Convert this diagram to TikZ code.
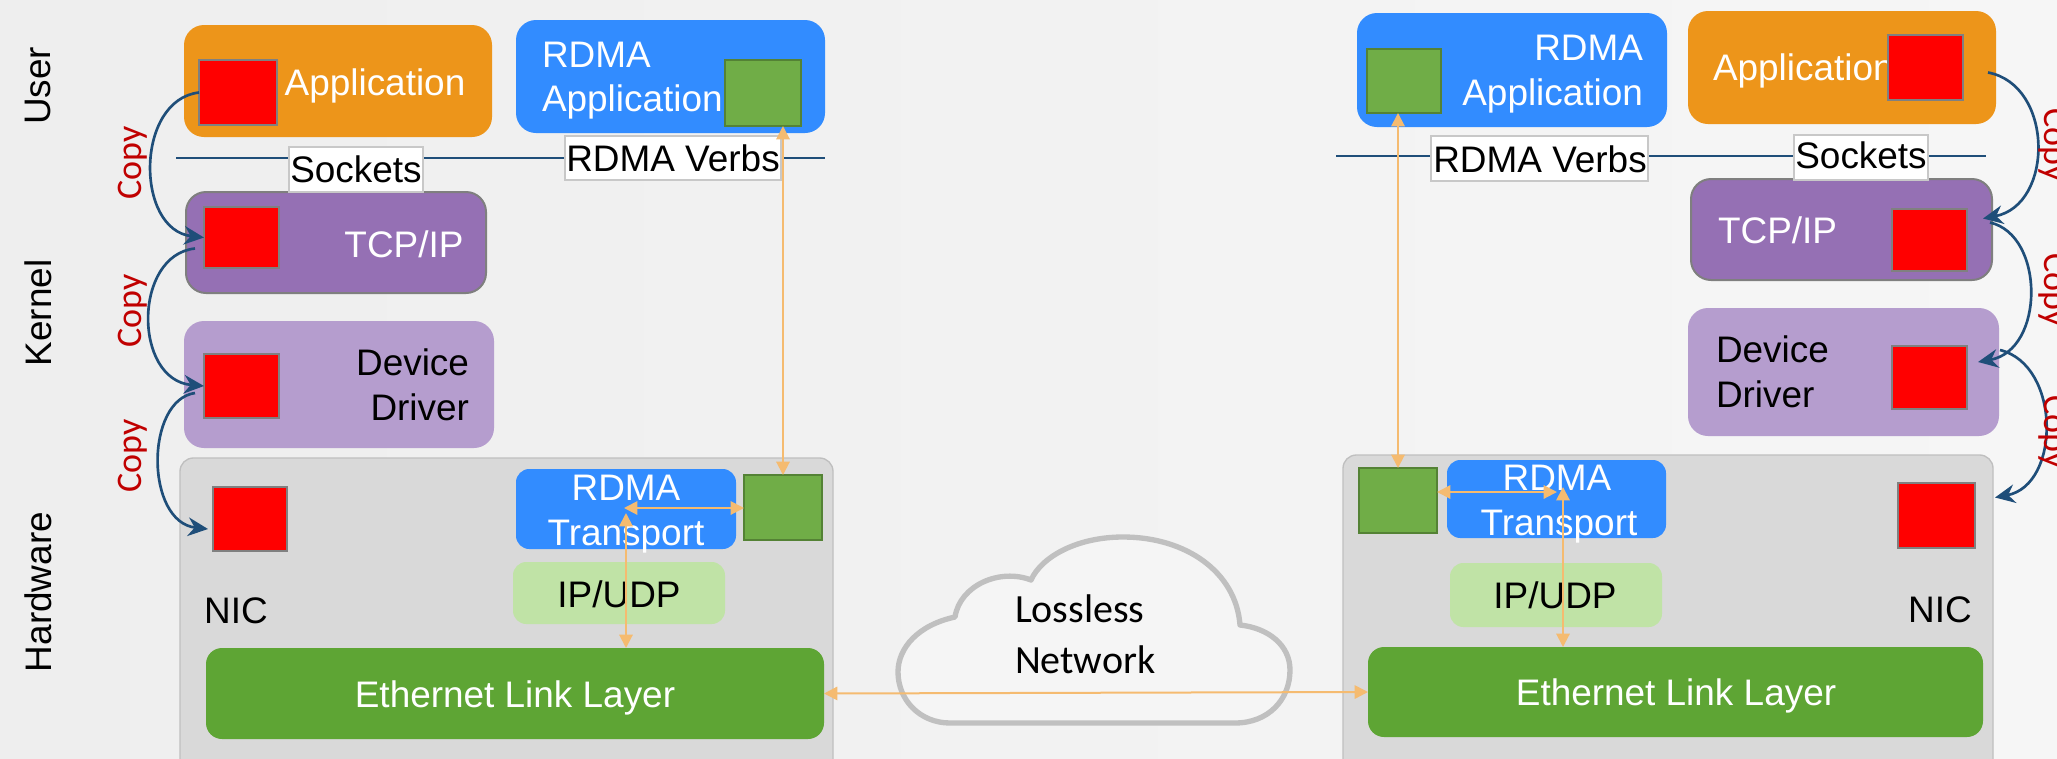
\documentclass[tikz,border=0pt]{standalone}
\usepackage{fontspec}
\setmainfont{Liberation Sans}
\newfontfamily\calibrifont{Carlito}
\usetikzlibrary{fit,arrows.meta}

\definecolor{bgl}{RGB}{238,238,238}
\definecolor{bgr}{RGB}{246,246,246}
\definecolor{appor}{RGB}{237,149,26}
\definecolor{rdmab}{RGB}{50,140,255}
\definecolor{tcpp}{RGB}{149,112,180}
\definecolor{tcpedge}{RGB}{127,127,127}
\definecolor{drvp}{RGB}{181,157,206}
\definecolor{nicg}{RGB}{217,217,217}
\definecolor{nicb}{RGB}{191,191,191}
\definecolor{ethg}{RGB}{94,165,52}
\definecolor{ipg}{RGB}{192,227,166}
\definecolor{bufg}{RGB}{112,173,71}
\definecolor{bufgb}{RGB}{84,130,53}
\definecolor{bufr}{RGB}{255,0,0}
\definecolor{bufrb}{RGB}{128,128,128}
\definecolor{apiedge}{RGB}{200,200,200}
\definecolor{arrowor}{RGB}{245,187,112}
\definecolor{navy}{RGB}{31,78,121}
\definecolor{copyred}{RGB}{192,0,0}
\definecolor{cloudg}{RGB}{192,192,192}
\definecolor{cloudfill}{RGB}{245,245,245}

\begin{document}
\begin{tikzpicture}[x=0.75pt,y=-0.75pt,
  every node/.style={inner sep=0pt, outer sep=0pt},
  appbox/.style={fill=appor, rounded corners=15pt},
  rdmabox/.style={fill=rdmab, rounded corners=15pt},
  rdmasmall/.style={fill=rdmab, rounded corners=10pt},
  tcpbox/.style={fill=tcpp, draw=tcpedge, line width=1.5pt, rounded corners=15pt},
  drvbox/.style={fill=drvp, rounded corners=15pt},
  nicbox/.style={fill=nicg, draw=nicb, line width=1pt, rounded corners=10pt},
  ipbox/.style={fill=ipg, rounded corners=10pt},
  ethbox/.style={fill=ethg, rounded corners=12pt},
  redbuf/.style={fill=bufr, draw=bufrb, line width=2pt},
  greenbuf/.style={fill=bufg, draw=bufgb, line width=2pt},
  apibox/.style={fill=white, draw=apiedge, line width=0.8pt},
  lbl/.style={font=\fontsize{27.7}{33}\selectfont, anchor=base},
  wlbl/.style={lbl, text=white},
  side/.style={font=\fontsize{27.7}{33}\selectfont, rotate=90},
  copylbl/.style={font=\calibrifont\fontsize{27}{32}\selectfont, text=copyred},
  oarrow/.style={draw=arrowor, line width=1.5pt, arrows={Triangle[length=10pt,width=10pt]-Triangle[length=10pt,width=10pt]}},
  copyarc/.style={draw=navy, line width=2pt, arrows={-Stealth[length=15pt,width=14pt,inset=5pt]}},
  sepline/.style={draw=navy, line width=2pt},
  cloudline/.style={draw=cloudg, line width=4pt, fill=cloudfill, line join=round},
]
\useasboundingbox (0,0) rectangle (2057,758);
\clip (0,0) rectangle (2057,758);
\shade[left color=bgl, right color=bgr] (0,0) rectangle (2057,758);

% ---------------- layer names ----------------
\node[side] (lUser) at (38,86) {User};
\node[side] (lKernel) at (38,313) {Kernel};
\node[side] (lHw) at (38,592) {Hardware};

% ---------------- left host: boxes ----------------
\node[appbox, fit={(184,25) (492,137)}] (appL) {};
\node[rdmabox, fit={(516,20) (825,133)}] (rappL) {};
\node[tcpbox, fit={(186,192) (486,293)}] (tcpL) {};
\node[drvbox, fit={(184,321) (494,448)}] (drvL) {};
\node[nicbox, fit={(180,458) (833,800)}] (nicL) {};
\node[rdmasmall, fit={(516,469) (736,549)}] (rtL) {};
\node[ipbox, fit={(513,562) (725,624)}] (ipL) {};
\node[ethbox, fit={(206,648) (824,739)}] (ethL) {};

% ---------------- right host: boxes ----------------
\node[rdmabox, fit={(1357,13) (1667,127)}] (rappR) {};
\node[appbox, fit={(1688,11) (1996,124)}] (appR) {};
\node[tcpbox, fit={(1691,179) (1992,280)}] (tcpR) {};
\node[drvbox, fit={(1688,308) (1999,436)}] (drvR) {};
\node[nicbox, fit={(1343,455) (1993,800)}] (nicR) {};
\node[rdmasmall, fit={(1447,460) (1666,538)}] (rtR) {};
\node[ipbox, fit={(1450,563) (1662,627)}] (ipR) {};
\node[ethbox, fit={(1368,647) (1983,737)}] (ethR) {};

% ---------------- box texts ----------------
\node[wlbl] (tAppL) at (375,95) {Application};
\node[wlbl, anchor=base west] (tRappL1) at (542,67) {RDMA};
\node[wlbl, anchor=base west] (tRappL2) at (542,111) {Application};
\node[wlbl] (tTcpL) at (404,257) {TCP/IP};
\node[lbl, anchor=base east] (tDrvL1) at (469,375) {Device};
\node[lbl, anchor=base east] (tDrvL2) at (469,420) {Driver};
\node[lbl] (tNicL) at (236,623) {NIC};
\node[wlbl] (tRtL1) at (626,500) {RDMA};
\node[wlbl] (tRtL2) at (626,545) {Transport};
\node[lbl] (tIpL) at (619,607) {IP/UDP};
\node[wlbl] (tEthL) at (515,707) {Ethernet Link Layer};

\node[wlbl, anchor=base east] (tRappR1) at (1643,60) {RDMA};
\node[wlbl, anchor=base east] (tRappR2) at (1643,105) {Application};
\node[wlbl, anchor=base west] (tAppR) at (1713,80) {Application};
\node[wlbl, anchor=base west] (tTcpR) at (1718,243) {TCP/IP};
\node[lbl, anchor=base west] (tDrvR1) at (1716,362) {Device};
\node[lbl, anchor=base west] (tDrvR2) at (1716,407) {Driver};
\node[wlbl] (tRtR1) at (1557,490) {RDMA};
\node[wlbl] (tRtR2) at (1559,535) {Transport};
\node[lbl] (tIpR) at (1555,608) {IP/UDP};
\node[lbl] (tNicR) at (1940,622) {NIC};
\node[wlbl] (tEthR) at (1676,705) {Ethernet Link Layer};

% ---------------- buffers ----------------
\node[redbuf, fit={(199,60) (277,125)}] (bufAppL) {};
\node[redbuf, fit={(204,207) (279,268)}] (bufTcpL) {};
\node[redbuf, fit={(204,354) (279,418)}] (bufDrvL) {};
\node[redbuf, fit={(213,487) (287,551)}] (bufNicL) {};
\node[greenbuf, fit={(725,60) (801,126)}] (gAppL) {};
\node[greenbuf, fit={(744,475) (822,540)}] (gNicL) {};

\node[redbuf, fit={(1888,35) (1963,100)}] (bufAppR) {};
\node[redbuf, fit={(1892,209) (1967,271)}] (bufTcpR) {};
\node[redbuf, fit={(1892,346) (1967,409)}] (bufDrvR) {};
\node[redbuf, fit={(1898,483) (1975,548)}] (bufNicR) {};
\node[greenbuf, fit={(1367,49) (1441,113)}] (gAppR) {};
\node[greenbuf, fit={(1359,468) (1437,533)}] (gNicR) {};

% ---------------- user/kernel boundary and APIs ----------------
\coordinate (sepL0) at (176,158);
\coordinate (sepL1) at (825,158);
\coordinate (sepR0) at (1336,156);
\coordinate (sepR1) at (1986,156);
\draw[sepline] (sepL0) -- (sepL1);
\draw[sepline] (sepR0) -- (sepR1);
\node[apibox, fit={(289,147) (423,192)}] (sockL) {};
\node[apibox, fit={(565,136) (781,180)}] (verbL) {};
\node[apibox, fit={(1431,136) (1648,181)}] (verbR) {};
\node[apibox, fit={(1794,135) (1928,180)}] (sockR) {};
\node[lbl] (tSockL) at (356,182) {Sockets};
\node[lbl] (tVerbL) at (673,171) {RDMA Verbs};
\node[lbl] (tVerbR) at (1540,172) {RDMA Verbs};
\node[lbl] (tSockR) at (1861,168) {Sockets};

% ---------------- network cloud ----------------
\draw[cloudline] (950,723) -- (1235,723)
  .. controls (1268,723) and (1290,700) .. (1290,670)
  .. controls (1290,645) and (1268,628) .. (1240,625)
  .. controls (1236,572) and (1186,537) .. (1123,537)
  .. controls (1078,537) and (1042,556) .. (1031,580)
  .. controls (1000,568) and (960,585) .. (955,617)
  .. controls (918,625) and (898,648) .. (898,672)
  .. controls (898,700) and (920,723) .. (950,723) -- cycle;
\node[font=\calibrifont\fontsize{30}{36}\selectfont, anchor=base west] (tNet1) at (1015,622) {Lossless};
\node[font=\calibrifont\fontsize{30}{36}\selectfont, anchor=base west] (tNet2) at (1015,673) {Network};

% ---------------- RDMA data path ----------------
\coordinate (hubLh) at (624,508);
\coordinate (hubLv) at (626,513);
\coordinate (hubRh) at (1557,492);
\coordinate (hubRv) at (1563,487);
\draw[oarrow] (gNicL.north) -- (gNicL.north |- gAppL.south);
\draw[oarrow] (gNicL.west |- hubLh) -- (hubLh);
\draw[oarrow] (ethL.north -| hubLv) -- (hubLv);
\draw[oarrow] (gNicR.north) -- (gNicR.north |- gAppR.south);
\draw[oarrow] (gNicR.east |- hubRh) -- (hubRh);
\draw[oarrow] (ethR.north -| hubRv) -- (hubRv);
\draw[oarrow] (ethL.east) -- (ethR.west);

% ---------------- socket copies, left host ----------------
\draw[copyarc] (bufAppL.west) .. controls (135,100) and (135,230) .. (bufTcpL.west);
\draw[copyarc] ([shift={(-9,11)}]bufTcpL.west) .. controls (133,255) and (133,380) .. (bufDrvL.west);
\draw[copyarc] ([shift={(-9,7)}]bufDrvL.west) .. controls (145,400) and (145,522) .. ([shift={(-5,10)}]bufNicL.west);
\node[copylbl, rotate=90] (cL1) at (133,163) {Copy};
\node[copylbl, rotate=90] (cL2) at (133,311) {Copy};
\node[copylbl, rotate=90] (cL3) at (133,456) {Copy};

% ---------------- socket copies, right host ----------------
\draw[copyarc] ([shift={(25,5)}]bufAppR.east) .. controls (2054,85) and (2054,205) .. ([shift={(-9,-11)}]tcpR.east);
\draw[copyarc] ([shift={(-2,-7)}]tcpR.east) .. controls (2045,235) and (2045,350) .. ([shift={(-21,-10)}]drvR.east);
\draw[copyarc] ([shift={(1,-22)}]drvR.east) .. controls (2061,365) and (2061,485) .. ([shift={(20,-18)}]bufNicR.east);
\node[copylbl, rotate=-90] (cR1) at (2053,145) {Copy};
\node[copylbl, rotate=-90] (cR2) at (2053,290) {Copy};
\node[copylbl, rotate=-90] (cR3) at (2053,432) {Copy};
\end{tikzpicture}
\end{document}
